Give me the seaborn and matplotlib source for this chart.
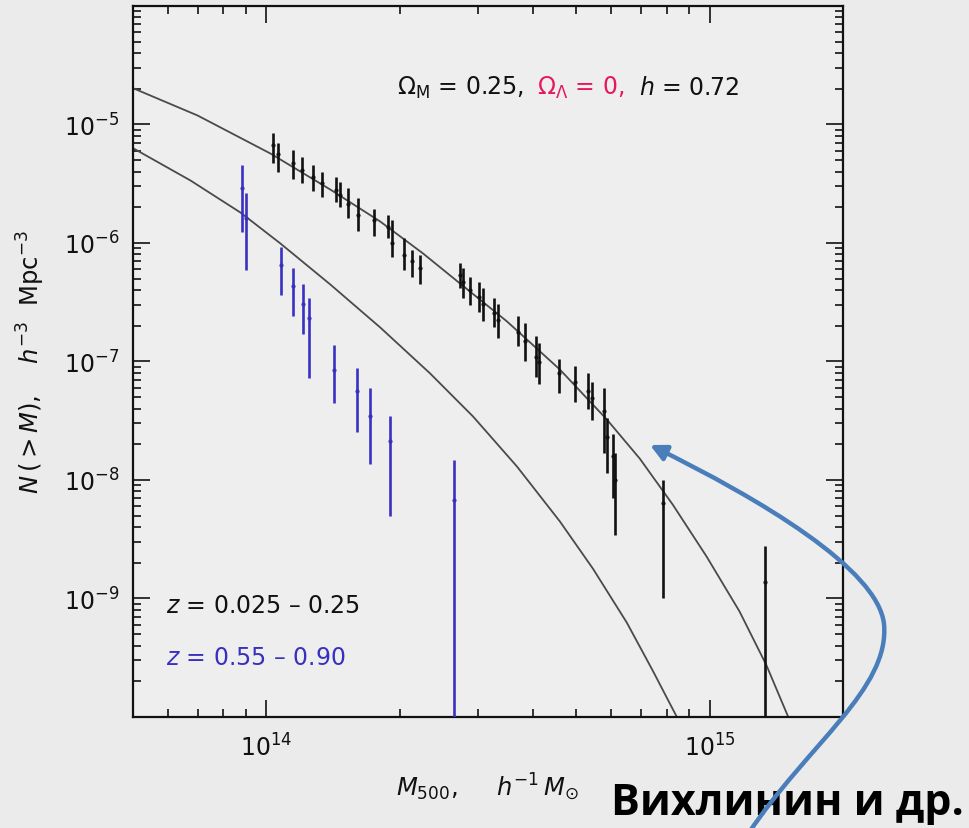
import numpy as np
import pandas as pd
import matplotlib
matplotlib.use("Agg")
import matplotlib.pyplot as plt
import seaborn as sns
from matplotlib.path import Path
from matplotlib.patches import FancyArrowPatch
from matplotlib.ticker import FixedLocator, NullFormatter, FixedFormatter
from matplotlib.offsetbox import TextArea, HPacker, AnchoredOffsetbox

# ---------------- data (log10 values) ----------------
curve_hi_logM = [13.7005, 13.8446, 14.0090, 14.1441, 14.2568, 14.3536, 14.4369, 14.5428,
                 14.6622, 14.7680, 14.8423, 14.9167, 14.9932, 15.0676, 15.1284, 15.1779]
curve_hi_logN = [-4.696, -4.924, -5.245, -5.549, -5.819, -6.089, -6.342, -6.662,
                 -7.068, -7.489, -7.819, -8.207, -8.646, -9.110, -9.565, -10.004]

curve_lo_logM = [13.7005, 13.8288, 13.9414, 14.0315, 14.1441, 14.2568, 14.3694, 14.4662,
                 14.5653, 14.6622, 14.7365, 14.8131, 14.8716, 14.9279]
curve_lo_logN = [-5.203, -5.473, -5.743, -6.004, -6.350, -6.713, -7.101, -7.464,
                 -7.886, -8.350, -8.747, -9.203, -9.608, -10.013]

blk_logM = [14.016, 14.027, 14.061, 14.081, 14.106, 14.126, 14.158, 14.167, 14.185,
            14.207, 14.243, 14.275, 14.284, 14.311, 14.329, 14.347, 14.437, 14.444,
            14.459, 14.480, 14.489, 14.514, 14.523, 14.568, 14.583, 14.608, 14.615,
            14.660, 14.696, 14.725, 14.734, 14.761, 14.768, 14.782, 14.786, 14.894,
            15.126]
blk_logN = [-5.177, -5.245, -5.329, -5.388, -5.447, -5.498, -5.549, -5.591, -5.667,
            -5.768, -5.802, -5.861, -6.004, -6.105, -6.148, -6.207, -6.274, -6.333,
            -6.401, -6.460, -6.511, -6.595, -6.654, -6.755, -6.823, -6.966, -7.008,
            -7.101, -7.177, -7.245, -7.304, -7.414, -7.641, -7.800, -8.000, -8.198,
            -8.865]
blk_top = [-5.076, -5.160, -5.219, -5.278, -5.338, -5.405, -5.447, -5.489, -5.540,
           -5.624, -5.717, -5.768, -5.810, -5.954, -6.063, -6.105, -6.173, -6.207,
           -6.291, -6.333, -6.376, -6.468, -6.511, -6.620, -6.679, -6.789, -6.848,
           -6.975, -7.042, -7.101, -7.169, -7.228, -7.481, -7.608, -7.776, -8.004,
           -8.561]
blk_bot = [-5.329, -5.405, -5.456, -5.498, -5.565, -5.616, -5.658, -5.700, -5.793,
           -5.895, -5.945, -5.962, -6.122, -6.232, -6.283, -6.342, -6.376, -6.468,
           -6.527, -6.586, -6.662, -6.705, -6.806, -6.873, -6.992, -7.135, -7.194,
           -7.270, -7.346, -7.405, -7.498, -7.776, -7.945, -8.148, -8.468, -8.992,
           -10.300]

blu_logM = [13.944, 13.955, 14.032, 14.061, 14.083, 14.097, 14.153, 14.205, 14.234,
            14.279, 14.423]
blu_logN = [-5.540, -5.793, -6.190, -6.359, -6.511, -6.637, -7.076, -7.245, -7.456,
            -7.667, -8.165]
blu_top = [-5.346, -5.582, -6.038, -6.207, -6.342, -6.468, -6.865, -7.051, -7.228,
           -7.456, -7.835]
blu_bot = [-5.911, -6.232, -6.435, -6.612, -6.764, -7.143, -7.354, -7.599, -7.861,
           -8.300, -10.500]

xtick_major = [1e14, 1e15]
xtick_labels = [r"$10^{14}$", r"$10^{15}$"]
ytick_major = [1e-9, 1e-8, 1e-7, 1e-6, 1e-5]
ytick_labels = [r"$10^{-9}$", r"$10^{-8}$", r"$10^{-7}$", r"$10^{-6}$", r"$10^{-5}$"]

# ---------------- style ----------------
sns.set_theme(style="ticks")
plt.rcParams["font.family"] = ["DejaVu Sans"]
plt.rcParams["mathtext.fontset"] = "dejavusans"

BG = "#ebebeb"
CURVE = "#4a4a4a"
BLUE = "#3a30c0"
CRIMSON = "#e8175d"

fig = plt.figure(figsize=(9.7, 8.29), dpi=100, facecolor=BG)
ax = fig.add_axes([0.1371, 0.1339, 0.7320, 0.8577])
ax.set_facecolor("#eeeeee")
ax.set_xscale("log")
ax.set_yscale("log")

curve_df = pd.DataFrame({
    "M": 10 ** np.array(curve_hi_logM + curve_lo_logM),
    "N": 10 ** np.array(curve_hi_logN + curve_lo_logN),
    "curve": ["low-z"] * len(curve_hi_logM) + ["high-z"] * len(curve_lo_logM),
})
sns.lineplot(data=curve_df, x="M", y="N", units="curve", estimator=None, sort=False,
             color=CURVE, lw=1.3, ax=ax, legend=False, solid_joinstyle="round")

def draw_points(logM, logN, top, bot, color):
    M = 10 ** np.array(logM)
    ax.vlines(M, 10 ** np.array(bot), 10 ** np.array(top), color=color, lw=1.9, zorder=3)
    df = pd.DataFrame({"M": M, "N": 10 ** np.array(logN)})
    sns.scatterplot(data=df, x="M", y="N", marker="o", s=9, color=color,
                    edgecolor=color, linewidth=0, ax=ax, zorder=4, legend=False)

draw_points(blk_logM, blk_logN, blk_top, blk_bot, "#111111")
draw_points(blu_logM, blu_logN, blu_top, blu_bot, BLUE)

ax.set_xlim(5e13, 2e15)
ax.set_ylim(1e-10, 1e-4)
ax.set_xlabel("")
ax.set_ylabel("")

# ticks
ax.xaxis.set_major_locator(FixedLocator(xtick_major))
ax.xaxis.set_major_formatter(FixedFormatter(xtick_labels))
ax.xaxis.set_minor_locator(FixedLocator(
    [m * 10 ** e for e in (13, 14) for m in range(2, 10)] + [2e15]))
ax.xaxis.set_minor_formatter(NullFormatter())
ax.yaxis.set_major_locator(FixedLocator(ytick_major))
ax.yaxis.set_major_formatter(FixedFormatter(ytick_labels))
ax.yaxis.set_minor_locator(FixedLocator(
    [m * 10.0 ** e for e in range(-10, -4) for m in range(2, 10)]))
ax.yaxis.set_minor_formatter(NullFormatter())

ax.tick_params(which="both", direction="in", top=True, right=True, color="#111111",
               width=1.2)
ax.tick_params(which="major", length=12)
ax.tick_params(which="minor", length=6)
ax.tick_params(axis="x", which="major", pad=12, labelsize=17, labelcolor="#111111")
ax.tick_params(axis="y", which="major", pad=10, labelsize=17, labelcolor="#111111")
for sp in ax.spines.values():
    sp.set_color("#111111")
    sp.set_linewidth(1.6)

# axis labels
fig.text(31 / 970, 1 - 362 / 829, r"$N\,(>M)$,    $h^{-3}$  Mpc$^{-3}$", rotation=90,
         ha="center", va="center", fontsize=17.5, color="#111111")
fig.text(487 / 970, 1 - 787 / 829, r"$M_{500}$,     $h^{-1}\,M_{\odot}$",
         ha="center", va="center", fontsize=17.5, color="#111111")

# top annotation with mixed colours
t1 = TextArea(r"$\Omega_{\rm M}$ = 0.25,", textprops=dict(fontsize=17, color="#111111"))
t2 = TextArea(r"$\Omega_{\Lambda}$ = 0,", textprops=dict(fontsize=17, color=CRIMSON))
t3 = TextArea(r"$h$ = 0.72", textprops=dict(fontsize=17, color="#111111"))
box = HPacker(children=[t1, t2, t3], align="baseline", pad=0, sep=10)
anch = AnchoredOffsetbox(loc="center left", child=box, pad=0, frameon=False,
                         bbox_to_anchor=((397 - 133) / 710, (718 - 88) / 711),
                         bbox_transform=ax.transAxes, borderpad=0)
ax.add_artist(anch)

ax.text((166 - 133) / 710, (718 - 606) / 711, r"$z$ = 0.025 – 0.25",
        transform=ax.transAxes, ha="left", va="center", fontsize=17, color="#111111")
ax.text((166 - 133) / 710, (718 - 658) / 711, r"$z$ = 0.55 – 0.90",
        transform=ax.transAxes, ha="left", va="center", fontsize=17, color=BLUE)

# author credit
fig.text(611 / 970, 1 - 815 / 829, "Вихлинин и др.", ha="left", va="baseline",
         fontsize=31, fontweight="bold", family=["Open Sans", "DejaVu Sans"],
         color="#000000", zorder=10)

# curved arrow (figure pixel coordinates -> fraction)
def fp(x, y):
    return (x / 970, 1 - y / 829)

verts = [fp(748, 835), fp(808, 745), fp(890, 690), fp(884, 625),
         fp(878, 570), fp(760, 500), fp(650, 446)]
codes = [Path.MOVETO, Path.CURVE4, Path.CURVE4, Path.CURVE4,
         Path.CURVE4, Path.CURVE4, Path.CURVE4]
arrow = FancyArrowPatch(path=Path(verts, codes), arrowstyle="-|>", mutation_scale=24,
                        color="#4a7ebb", lw=3.2, transform=fig.transFigure,
                        clip_on=False, zorder=20)
fig.add_artist(arrow)

fig.savefig("out.png", dpi=100, facecolor=BG)
